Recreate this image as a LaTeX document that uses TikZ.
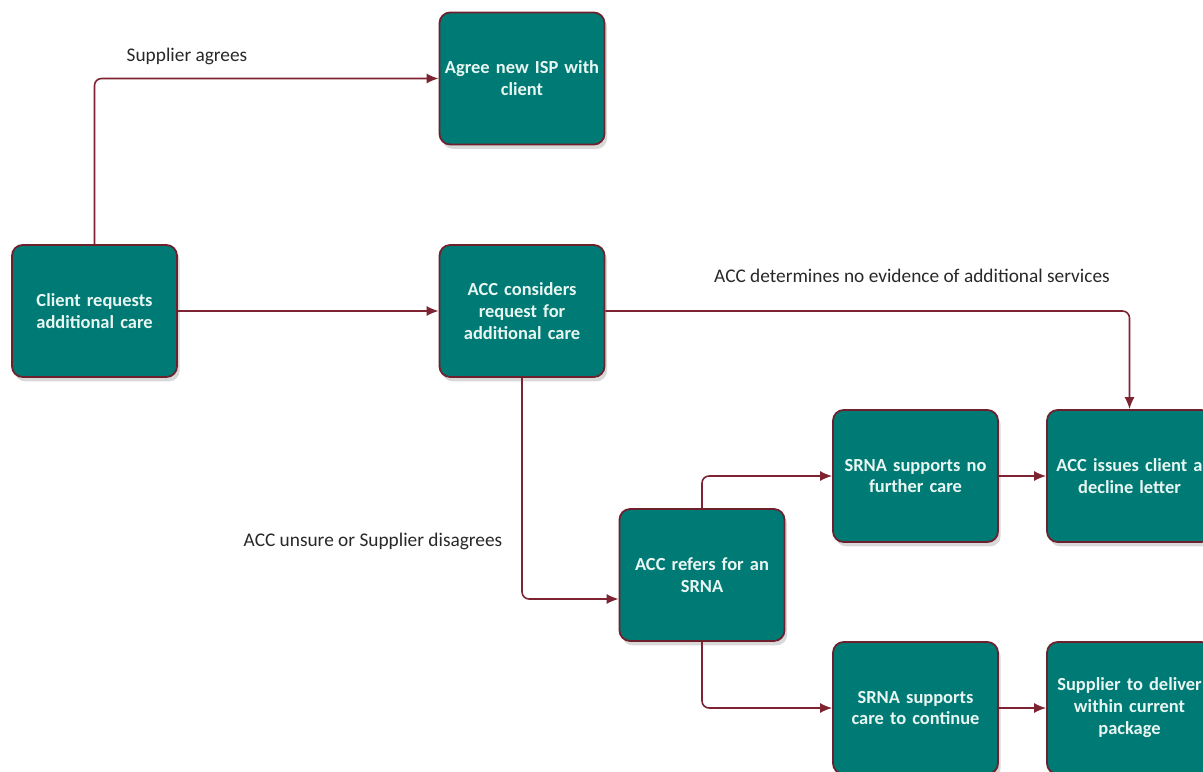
\documentclass[tikz,border=0pt]{standalone}
\usepackage{fontspec}
\setmainfont{Carlito}
\usepackage{tikz}
\usetikzlibrary{arrows.meta,positioning,shadows}
\definecolor{accteal}{RGB}{0,122,117}
\definecolor{darkmaroon}{RGB}{110,32,44}
\definecolor{linemaroon}{RGB}{125,35,50}
\definecolor{paletext}{RGB}{232,246,242}
\definecolor{labelgray}{RGB}{40,40,40}
\tikzset{
  carebox/.style={draw=darkmaroon, fill=accteal, rounded corners=6pt, line width=1pt,
                  text=paletext, align=center, text width=3.25cm, inner sep=0pt,
                  minimum width=3.3cm, minimum height=2.64cm,
                  font=\bfseries\fontsize{10.5}{12.5}\selectfont,
                  drop shadow={opacity=0.3, shadow xshift=1.5pt, shadow yshift=-2.5pt}},
  careflow/.style={-{Latex[length=2.4mm, width=2mm]}, line width=0.9pt,
                   draw=linemaroon, rounded corners=4pt},
  flowlabel/.style={text=labelgray, font=\fontsize{11}{13}\selectfont}
}
\begin{document}
\begin{tikzpicture}[x=0.02cm, y=-0.02cm]
  \useasboundingbox (0,0) rectangle (1203,771);
  \node[carebox] (client) at (94.5,311) {Client requests\\additional care};
  \node[carebox] (agree) at (522,78.5) {Agree new ISP with\\client};
  \node[carebox] (consider) at (522,311) {ACC considers\\request for\\additional care};
  \node[carebox] (refers) at (702,575) {ACC refers for an\\SRNA};
  \node[carebox] (nofurther) at (915.5,476) {SRNA supports no\\further care};
  \node[carebox] (issues) at (1129.5,476) {ACC issues client a\\decline letter};
  \node[carebox] (carecont) at (915.5,708) {SRNA supports\\care to continue};
  \node[carebox] (deliver) at (1129.5,708) {Supplier to deliver\\within current\\package};
  \node[flowlabel] (agreelbl) at (187,56) {Supplier agrees};
  \node[flowlabel] (nolbl) at (912,276) {ACC determines no evidence of additional services};
  \node[flowlabel] (unsurelbl) at (373,541) {ACC unsure or Supplier disagrees};
  \draw[careflow] (client.north) |- (agree.west);
  \draw[careflow] (client) -- (consider);
  \draw[careflow] (consider.east) -| (issues.north);
  \draw[careflow] (consider.south) |- ([yshift=-0.48cm]refers.west);
  \draw[careflow] (refers.north) |- (nofurther.west);
  \draw[careflow] (refers.south) |- (carecont.west);
  \draw[careflow] (nofurther) -- (issues);
  \draw[careflow] (carecont) -- (deliver);
\end{tikzpicture}
\end{document}
